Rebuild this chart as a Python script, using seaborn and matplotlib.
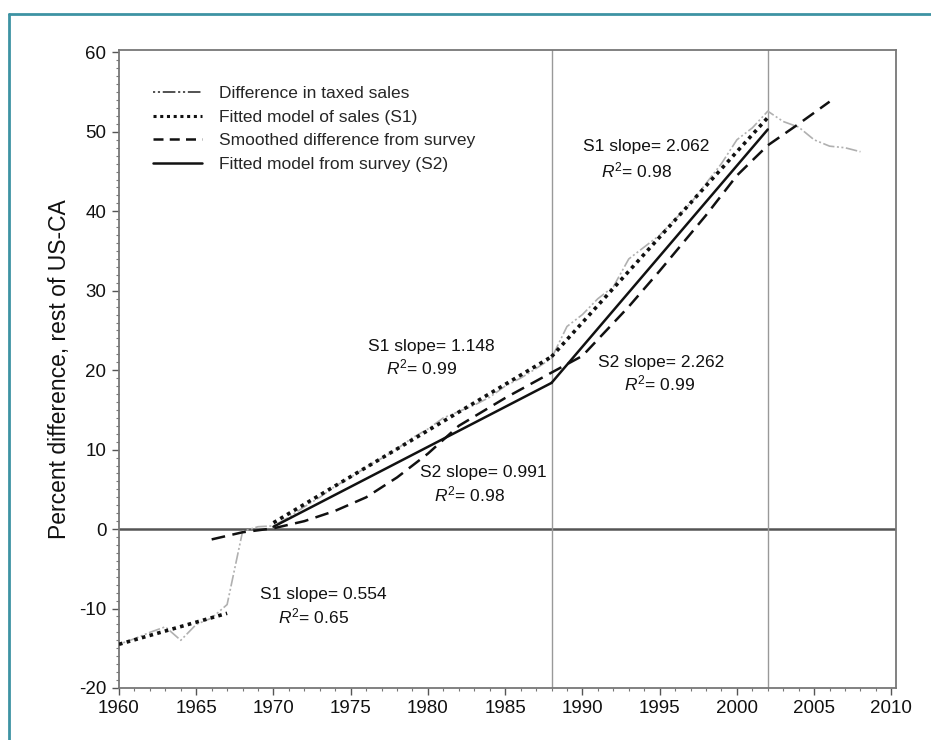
import numpy as np
import pandas as pd
import matplotlib
matplotlib.use("Agg")
import matplotlib.pyplot as plt
from matplotlib.lines import Line2D
from matplotlib.ticker import MultipleLocator
import seaborn as sns

# ---------------- data ----------------
sales_years = list(range(1960, 2009))
sales_diff = [-14.5, -13.8, -13.0, -12.3, -14.0, -12.0, -11.2, -9.5, -0.3, 0.3,
              0.4, 1.5, 2.8, 4.0, 5.4, 6.5, 7.8, 8.9, 10.1, 11.5,
              12.6, 14.0, 14.8, 15.6, 16.6, 18.0, 19.0, 20.2, 21.5, 25.5,
              27.0, 29.0, 30.5, 34.0, 35.5, 37.0, 39.0, 41.0, 43.5, 46.0,
              49.0, 50.5, 52.6, 51.3, 50.6, 49.0, 48.2, 48.0, 47.5]

s1_seg_years = [[1960, 1967], [1970, 1988], [1988, 2002]]
s1_seg_vals = [[-14.5, -10.6], [0.8, 21.7], [21.7, 51.8]]

s2_seg_years = [[1970, 1988], [1988, 2002]]
s2_seg_vals = [[0.3, 18.4], [18.4, 50.3]]

smooth_years = [1966, 1968, 1970, 1972, 1974, 1976, 1978, 1980, 1982, 1985,
                1988, 1990, 1993, 1995, 1998, 2000, 2002, 2004, 2006]
smooth_vals = [-1.3, -0.4, 0.1, 1.0, 2.3, 4.0, 6.5, 9.5, 13.0, 16.5,
               19.7, 21.8, 28.0, 32.5, 39.5, 44.5, 48.3, 51.0, 53.8]

break_years = [1988, 2002]

legend_labels = ["Difference in taxed sales", "Fitted model of sales (S1)",
                 "Smoothed difference from survey", "Fitted model from survey (S2)"]

annotations = [
    ("S1 slope= 0.554", 1973.2, -8.2),
    ("$R^2$= 0.65", 1972.6, -11.0),
    ("S1 slope= 1.148", 1980.2, 23.0),
    ("$R^2$= 0.99", 1979.6, 20.4),
    ("S2 slope= 0.991", 1983.6, 7.1),
    ("$R^2$= 0.98", 1982.7, 4.3),
    ("S2 slope= 2.262", 1995.1, 21.0),
    ("$R^2$= 0.99", 1995.0, 18.3),
    ("S1 slope= 2.062", 1994.1, 48.1),
    ("$R^2$= 0.98", 1993.5, 45.1),
]

# ---------------- style ----------------
sns.set_style("ticks")
plt.rcParams['font.family'] = ['Liberation Sans', 'DejaVu Sans']
plt.rcParams['mathtext.fontset'] = 'custom'
plt.rcParams['mathtext.rm'] = 'Liberation Sans'
plt.rcParams['mathtext.it'] = 'Liberation Sans:italic'
plt.rcParams['axes.unicode_minus'] = False

fig = plt.figure(figsize=(9.31, 7.4), dpi=100)
ax = fig.add_axes([0.1278, 0.0703, 0.8346, 0.8621])

gray = "#b0b0b0"
sales_dash = (1.2, 1.5, 1.2, 1.5, 7, 1.5)
s1_dash = (1.0, 1.2)
sm_dash = (5.5, 3.0)

# reference lines
ax.axhline(0, color="#555555", lw=1.8, zorder=1)
for yb in break_years:
    ax.axvline(yb, color="#999999", lw=1.0, zorder=1)

df_sales = pd.DataFrame({"year": sales_years, "value": sales_diff})
sns.lineplot(data=df_sales, x="year", y="value", ax=ax, color=gray, lw=1.2, zorder=2)
ax.lines[-1].set_dashes(sales_dash)

df_sm = pd.DataFrame({"year": smooth_years, "value": smooth_vals})
sns.lineplot(data=df_sm, x="year", y="value", ax=ax, color="#111111", lw=1.8, zorder=3)
ax.lines[-1].set_dashes(sm_dash)

for yrs, vals in zip(s2_seg_years, s2_seg_vals):
    d = pd.DataFrame({"year": yrs, "value": vals})
    sns.lineplot(data=d, x="year", y="value", ax=ax, color="#111111", lw=1.8, zorder=4)

for yrs, vals in zip(s1_seg_years, s1_seg_vals):
    d = pd.DataFrame({"year": yrs, "value": vals})
    sns.lineplot(data=d, x="year", y="value", ax=ax, color="#111111", lw=2.6, zorder=5)
    ax.lines[-1].set_dashes(s1_dash)

for txt, x, y in annotations:
    ax.text(x, y, txt, ha="center", va="center", fontsize=12.5, color="#111111")

# axes
ax.set_xlim(1960, 2010.3)
ax.set_ylim(-20, 60.3)
ax.set_xticks(range(1960, 2011, 5))
ax.set_yticks(range(-20, 61, 10))
ax.xaxis.set_minor_locator(MultipleLocator(1))
ax.yaxis.set_minor_locator(MultipleLocator(1))
ax.tick_params(which="major", direction="out", length=5, width=1.0, color="#555555",
               labelsize=13.5, labelcolor="#111111", pad=4)
ax.tick_params(which="minor", direction="out", length=2.5, width=0.8, color="#777777")
ax.set_xlabel("")
ax.set_ylabel("Percent difference, rest of US-CA", fontsize=16.5, color="#111111", labelpad=6)
for sp in ax.spines.values():
    sp.set_visible(True)
    sp.set_color("#777777")
    sp.set_linewidth(1.3)

# legend
handles = [
    Line2D([], [], color="#444444", lw=1.3, dashes=sales_dash),
    Line2D([], [], color="#111111", lw=2.2, dashes=s1_dash),
    Line2D([], [], color="#111111", lw=1.8, dashes=(4, 2.5)),
    Line2D([], [], color="#111111", lw=1.8),
]
ax.legend(handles, legend_labels, loc="upper left", bbox_to_anchor=(0.035, 0.955),
          frameon=False, fontsize=12.5, handlelength=2.8, labelspacing=0.5,
          handletextpad=1.0, borderaxespad=0)

# teal frame around figure
fx = 9 / 931
fy = 1 - 14 / 740
fig.add_artist(Line2D([fx, fx], [0, fy], color="#3d93a3", lw=2, transform=fig.transFigure))
fig.add_artist(Line2D([fx, 1], [fy, fy], color="#3d93a3", lw=2, transform=fig.transFigure))

fig.savefig("out.png", dpi=100, facecolor="white")
